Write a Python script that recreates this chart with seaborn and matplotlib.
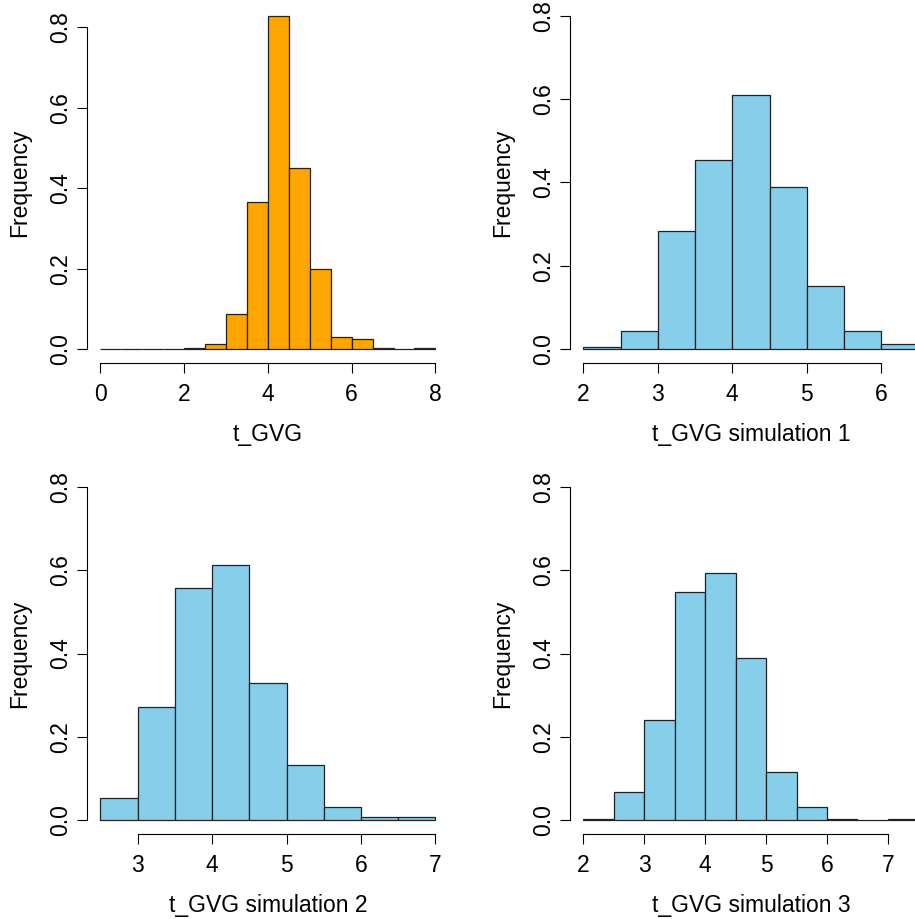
import numpy as np
import pandas as pd
import matplotlib
matplotlib.use("Agg")
import matplotlib.pyplot as plt
import seaborn as sns

# ---- data (bin edges and relative-frequency heights) ----
obs_edges = [0.0, 0.5, 1.0, 1.5, 2.0, 2.5, 3.0, 3.5, 4.0, 4.5, 5.0, 5.5, 6.0, 6.5, 7.0, 7.5, 8.0]
obs_heights = [0.0, 0.0, 0.0, 0.0, 0.002, 0.012, 0.087, 0.365, 0.828, 0.449, 0.199, 0.029, 0.026, 0.002, 0.0, 0.003]

sim1_edges = [2.0, 2.5, 3.0, 3.5, 4.0, 4.5, 5.0, 5.5, 6.0, 6.5]
sim1_heights = [0.004, 0.043, 0.283, 0.455, 0.611, 0.390, 0.151, 0.043, 0.012]

sim2_edges = [2.5, 3.0, 3.5, 4.0, 4.5, 5.0, 5.5, 6.0, 6.5, 7.0]
sim2_heights = [0.053, 0.271, 0.557, 0.612, 0.329, 0.132, 0.031, 0.007, 0.007]

sim3_edges = [2.0, 2.5, 3.0, 3.5, 4.0, 4.5, 5.0, 5.5, 6.0, 6.5, 7.0, 7.5]
sim3_heights = [0.004, 0.067, 0.240, 0.547, 0.594, 0.389, 0.115, 0.031, 0.004, 0.0, 0.004]

obs_xticks = [0, 2, 4, 6, 8]
sim1_xticks = [2, 3, 4, 5, 6]
sim2_xticks = [3, 4, 5, 6, 7]
sim3_xticks = [2, 3, 4, 5, 6, 7]
yticks = [0.0, 0.2, 0.4, 0.6, 0.8]

labels = ["t_GVG", "t_GVG simulation 1", "t_GVG simulation 2", "t_GVG simulation 3"]
ORANGE = "#FFA500"
SKYBLUE = "#87CEEB"

sns.set_style("white")
plt.rcParams["font.family"] = ["Liberation Sans", "DejaVu Sans"]

W, H = 915, 919
fig = plt.figure(figsize=(W / 100, H / 100), dpi=100)

def px_axes(left, top, width, height):
    return fig.add_axes([left / W, 1 - (top + height) / H, width / W, height / H])

PW, PH = 361.8, 360.0
axes = [
    px_axes(87.0, 2.5, PW, PH),
    px_axes(570.0, 2.5, PW, PH),
    px_axes(87.0, 473.6, PW, PH),
    px_axes(570.0, 473.6, PW, PH),
]

panels = [
    (obs_edges, obs_heights, obs_xticks, ORANGE, None),
    (sim1_edges, sim1_heights, sim1_xticks, SKYBLUE, 0.8),
    (sim2_edges, sim2_heights, sim2_xticks, SKYBLUE, 0.8),
    (sim3_edges, sim3_heights, sim3_xticks, SKYBLUE, 0.8),
]

FS = 16.5
for ax, (edges, heights, xt, col, ymax), lab in zip(axes, panels, labels):
    e = np.asarray(edges, dtype=float)
    centers = (e[:-1] + e[1:]) / 2
    df = pd.DataFrame({"x": centers, "w": heights})
    sns.histplot(data=df, x="x", weights="w", bins=list(edges), stat="count",
                 color=col, edgecolor="#222222", linewidth=0.9, alpha=1,
                 ax=ax)
    if ymax is None:
        ymax = max(heights)
    x0, x1 = edges[0], edges[-1]
    dx = (x1 - x0) * 0.04
    ax.set_xlim(x0 - dx, x1 + dx)
    ax.set_ylim(-0.04 * ymax, 1.04 * ymax)
    ax.set_xticks(xt)
    ax.set_xticklabels([str(v) for v in xt])
    ax.set_yticks(yticks)
    ax.set_yticklabels([f"{v:.1f}" for v in yticks])
    for s in ["top", "right"]:
        ax.spines[s].set_visible(False)
    for s in ["left", "bottom"]:
        ax.spines[s].set_color("black")
        ax.spines[s].set_linewidth(0.8)
    ax.spines["left"].set_bounds(0, 0.8)
    ax.spines["bottom"].set_bounds(xt[0], xt[-1])
    ax.tick_params(axis="both", direction="out", length=7.5, width=0.8,
                   color="black", labelsize=FS, labelcolor="black",
                   left=True, bottom=True)
    ax.tick_params(axis="x", pad=7.5)
    ax.tick_params(axis="y", pad=3.2, labelrotation=90)
    for t in ax.get_yticklabels():
        t.set_va("center")
    ax.set_xlabel(lab, fontsize=FS, labelpad=12, color="black")
    ax.set_ylabel("Frequency", fontsize=FS, labelpad=13, color="black")
    ax.grid(False)
    ax.set_facecolor("white")

fig.savefig("out.png", dpi=100, facecolor="white")
